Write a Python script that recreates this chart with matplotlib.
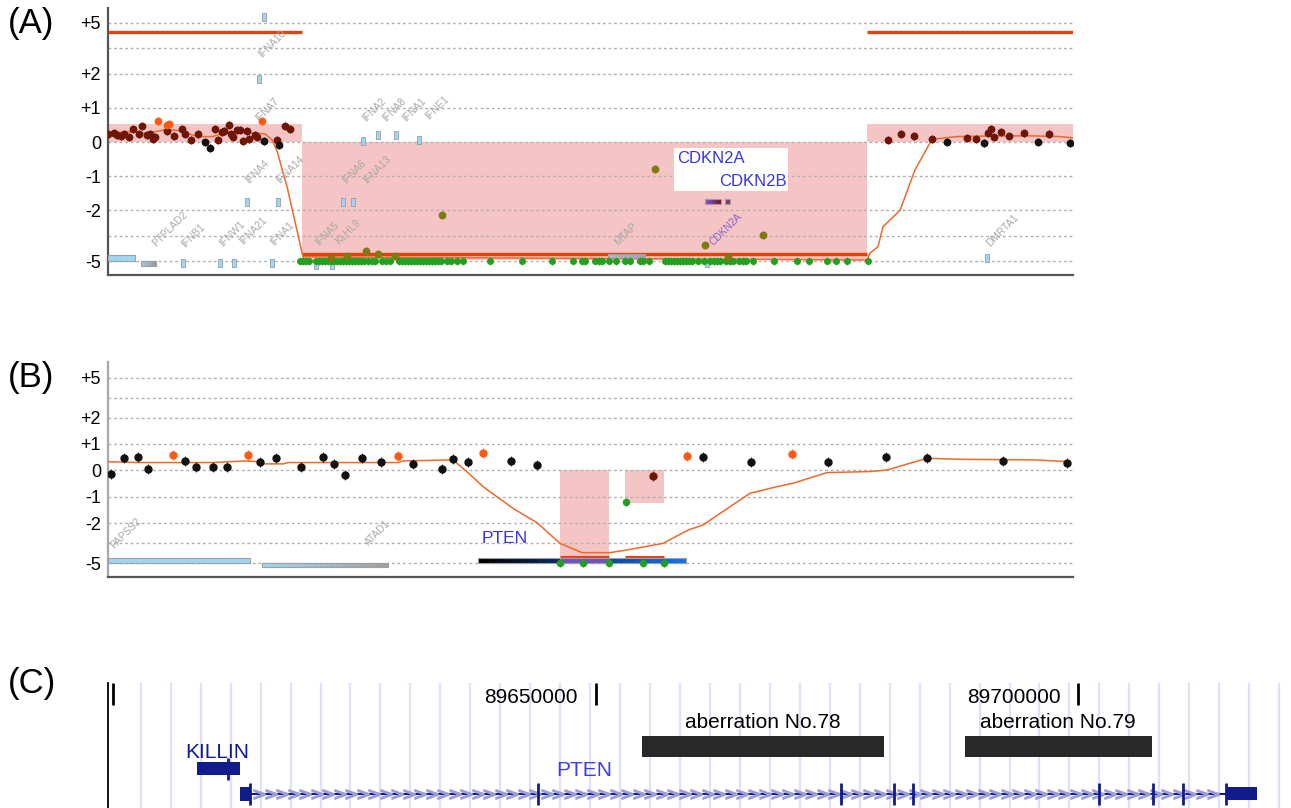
import matplotlib
matplotlib.use("Agg")
import matplotlib.pyplot as plt
import numpy as np
from matplotlib.colors import to_rgb
from matplotlib.ticker import NullFormatter

plt.rcParams['font.family'] = ['Liberation Sans', 'DejaVu Sans']

# ---------------- data: panel A (log2 ratio vs. position) ----------------
a_red_pos = [0, 6, 9, 13, 16, 21, 25, 31, 34, 39, 42, 45, 47, 59, 66, 74, 77, 83, 90,
             107, 110, 114, 116, 121, 123, 125, 129, 132, 135, 139, 141, 147, 149, 169,
             177, 182, 780, 793, 806, 824, 859, 868, 880, 883, 886, 893, 901, 916, 941]
a_red_val = [0.24, 0.26, 0.2, 0.17, 0.24, 0.14, 0.39, 0.24, 0.46, 0.22, 0.24, 0.1, 0.14,
             0.31, 0.17, 0.39, 0.24, 0.07, 0.24, 0.39, 0.07, 0.29, 0.31, 0.49, 0.24, 0.14,
             0.36, 0.36, 0.04, 0.33, 0.1, 0.22, 0.14, 0.07, 0.46, 0.39, 0.06, 0.24, 0.18,
             0.08, 0.13, 0.08, 0.27, 0.37, 0.16, 0.3, 0.18, 0.27, 0.23]
a_black_pos = [97, 102, 156, 171, 839, 876, 930, 962]
a_black_val = [0.0, -0.17, 0.02, -0.1, 0.0, -0.04, -0.01, -0.04]
a_orange_pos = [50, 59, 61, 154]
a_orange_val = [0.63, 0.51, 0.53, 0.63]
a_green_pos = [192, 195, 198, 201, 208, 211, 214, 217, 220, 223, 226, 229, 232, 235, 238,
               241, 244, 247, 250, 253, 256, 260, 264, 267, 274, 278, 282, 291, 294, 297,
               300, 303, 306, 309, 312, 315, 318, 321, 324, 327, 330, 333, 339, 343, 349,
               355, 382, 414, 444, 465, 474, 477, 487, 491, 494, 501, 508, 517, 522, 532,
               535, 541, 557, 560, 563, 566, 569, 572, 575, 578, 581, 584, 590, 596, 602,
               606, 609, 612, 618, 622, 625, 631, 635, 638, 645, 666, 689, 701, 719, 728,
               739, 760]
a_olive_pos = [334, 547, 655, 597, 258, 270, 239, 287, 223, 620]
a_olive_val = [-2.29, -0.79, -3.47, -4.06, -4.39, -4.59, -4.7, -4.7, -4.84, -4.78]
a_trend_pos = [0, 22, 39, 59, 72, 89, 105, 119, 139, 157, 164, 169, 179, 195, 759,
               762, 770, 775, 792, 807, 824, 849, 885, 925, 952, 965]
a_trend_val = [0.26, 0.3, 0.26, 0.37, 0.33, 0.16, 0.16, 0.3, 0.27, 0.24, 0.06, -0.26,
               -1.31, -4.75, -4.94, -4.53, -4.16, -2.98, -2.02, -0.82, 0.08, 0.16, 0.18,
               0.18, 0.16, 0.12]
a_seg_start = [0, 194, 759]
a_seg_end = [194, 759, 965]
a_seg_mean = [4.47, -4.59, 4.47]
a_box_low = [0, -4.95, 0]
a_box_high = [0.53, 0, 0.53]

a_gene_pos = [156, 151, 139, 170, 75, 112, 126, 164, 235, 245, 255, 270, 288, 311, 208,
              224, 879, 599]
a_gene_val = [5.37, 1.84, -1.76, -1.76, -5.14, -5.14, -5.14, -5.14, -1.76, -1.76, 0.04,
              0.21, 0.21, 0.06, -5.24, -5.24, -4.8, -5.1]
a_bar_start = [0, 33, 500, 597, 617]
a_bar_end = [27, 48, 537, 613, 622]
a_bar_low = [-5.0, -5.29, -4.82, -1.82, -1.82]
a_bar_high = [-4.65, -5.0, -4.59, -1.68, -1.68]
a_bar_c0 = ['#9fd6f5', '#a8c8e0', '#b8b0c8', '#7a5ad8', '#7a3a70']
a_bar_c1 = ['#9fd6f5', '#8f9aa8', '#a8a0b8', '#6a1838', '#7a3a70']

a_label_text = ['IFNA10', 'IFNA7', 'IFNA4', 'IFNA14', 'PTPLAD2', 'IFNB1', 'IFNW1',
                'IFNA21', 'IFNA1', 'IFNA5', 'KLHL9', 'IFNA6', 'IFNA13', 'IFNA2', 'IFNA8',
                'IFNA1', 'IFNE1', 'MTAP', 'CDKN2A', 'DMRTA1']
a_label_pos = [164, 159, 149, 182, 62, 85, 124, 145, 174, 219, 240, 246, 269, 266, 286,
               306, 329, 518, 618, 894]
a_label_val = [3.76, 0.94, -0.88, -0.82, -3.12, -3.53, -3.41, -3.24, -3.41, -3.41, -3.29,
               -0.88, -0.82, 0.94, 0.94, 0.94, 1.0, -3.41, -3.12, -3.18]

# ---------------- data: panel B ----------------
b_black_pos = [3, 16, 30, 40, 77, 88, 105, 119, 152, 168, 193, 215, 226, 237, 254, 273,
               305, 334, 345, 360, 403, 429, 595, 643, 720, 778, 819, 895, 959]
b_black_val = [-0.13, 0.46, 0.5, 0.06, 0.37, 0.14, 0.12, 0.14, 0.33, 0.46, 0.12, 0.5,
               0.25, -0.17, 0.46, 0.33, 0.25, 0.05, 0.42, 0.33, 0.37, 0.21, 0.5, 0.33,
               0.33, 0.5, 0.46, 0.37, 0.29]
b_orange_pos = [65, 140, 290, 375, 579, 684]
b_orange_val = [0.58, 0.58, 0.55, 0.65, 0.56, 0.61]
b_red_pos = [545]
b_red_val = [-0.21]
b_green_pos = [518, 452, 475, 501, 535, 556]
b_green_val = [-1.2, -5.0, -5.0, -5.0, -5.0, -5.0]
b_trend_pos = [0, 30, 105, 137, 152, 157, 175, 180, 290, 295, 345, 349, 359, 372, 375,
               405, 429, 452, 474, 502, 519, 555, 580, 595, 642, 669, 685, 719, 762, 779,
               819, 855, 927, 962]
b_trend_val = [0.33, 0.3, 0.3, 0.36, 0.33, 0.25, 0.25, 0.3, 0.3, 0.36, 0.4, 0.27, -0.05,
               -0.5, -0.61, -1.43, -1.97, -3.5, -4.2, -4.2, -4.0, -3.5, -2.5, -2.11, -0.86,
               -0.61, -0.48, -0.08, -0.04, 0.02, 0.46, 0.42, 0.4, 0.33]
b_box_start = [452, 517]
b_box_end = [501, 556]
b_box_low = [-4.5, -1.21]
b_seg_mean = [-4.5, -4.5]
b_bar_start = [0, 154, 370, 452]
b_bar_end = [142, 280, 578, 501]
b_bar_low = [-5.0, -5.3, -5.0, -5.0]
b_bar_high = [-4.6, -5.0, -4.6, -4.6]
b_bar_c0 = ['#9fd6f5', '#9fd6f5', '#000000', '#7050c8']
b_bar_c1 = ['#9fd6f5', '#a0a0a0', '#0a70ff', '#7050c8']
b_label_text = ['PAPSS2', 'ATAD1']
b_label_pos = [18, 270]
b_label_val = [-2.72, -2.72]

# ---------------- data: panel C (genome browser, bp) ----------------
c_tick_bp = [89600000, 89650000, 89700000]
c_tick_label = ['', '89650000', '89700000']
c_aber_name = ['aberration No.78', 'aberration No.79']
c_aber_start = [89654814, 89688209]
c_aber_end = [89679866, 89707610]
killin_start, killin_end, killin_mark = 89608750, 89613200, 89612000
pten_start, pten_end = 89613200, 89718480
pten_exon_bp = [89614235, 89644048, 89675393, 89680849, 89682919, 89702071, 89707712,
                89710818, 89715270]
pten_last_exon = (89715270, 89718480)

# ---------------- scale: compressed beyond +/-2 ----------------
VALS = [-40, -5, -2, -1, 0, 1, 2, 5, 40]
DISP = [-21, -3.5, -2, -1, 0, 1, 2, 3.5, 21]


def fwd(v):
    return np.interp(v, VALS, DISP)


def inv(d):
    return np.interp(d, DISP, VALS)


PINK = '#f5c4c4'
THICK = '#e2430c'
TREND = '#f0682a'
RED = '#6e1606'
ORANGE = '#ff5a14'
GREEN = '#22a022'
OLIVE = '#7b7b12'
GRAYTXT = '#a8a8a8'

W, H = 1291, 808
fig = plt.figure(figsize=(W / 100, H / 100), dpi=100)


def ratio_axes(top_px, bottom_px, ylim, left_color):
    ax = fig.add_axes([108 / W, 1 - bottom_px / H, (1073 - 108) / W,
                       (bottom_px - top_px) / H])
    ax.set_yscale('function', functions=(fwd, inv))
    ax.set_xlim(0, 965)
    ax.set_ylim(*ylim)
    ax.set_yticks([-5, -2, -1, 0, 1, 2, 5])
    ax.set_yticklabels(['-5', '-2', '-1', '0', '+1', '+2', '+5'])
    ax.set_yticks([-3.5, 3.5], minor=True)
    ax.yaxis.set_minor_formatter(NullFormatter())
    ax.tick_params(axis='y', which='both', length=0, pad=5, labelsize=13)
    ax.set_xticks([])
    ax.grid(axis='y', which='both', color='#b0b0b0', linestyle=(0, (2, 2)), linewidth=1)
    ax.set_axisbelow(True)
    for s in ('top', 'right'):
        ax.spines[s].set_visible(False)
    ax.spines['left'].set_color(left_color)
    ax.spines['left'].set_linewidth(1.6)
    ax.spines['bottom'].set_color('#555555')
    ax.spines['bottom'].set_linewidth(1.6)
    return ax


def points(ax, x, y, color, ms=4.6):
    ax.plot(x, y, 'o', ms=ms, color=color, mec=color, zorder=4)
    ax.plot(x, y, '|', ms=ms + 1.6, mew=0.6, color=color, zorder=4)


def grad_bar(ax, x0, x1, lo, hi, c0, c1, n=24):
    r0, r1 = np.array(to_rgb(c0)), np.array(to_rgb(c1))
    edges = np.linspace(x0, x1, n + 1)
    cols = [tuple(r0 + (r1 - r0) * t) for t in np.linspace(0, 1, n)]
    ax.broken_barh([(edges[i], edges[i + 1] - edges[i]) for i in range(n)],
                   (lo, hi - lo), facecolors=cols, edgecolor='none', zorder=3)
    ax.broken_barh([(x0, x1 - x0)], (lo, hi - lo), facecolors='none',
                   edgecolor='#a0a0a0', linewidth=0.8, zorder=3)


gene_marker = [(-0.22, -0.5), (0.22, -0.5), (0.22, 0.5), (-0.22, 0.5), (-0.22, -0.5)]

# ---------------- panel A ----------------
axa = ratio_axes(8, 275, (-5.82, 5.88), '#555555')
for x0, x1, lo, hi in zip(a_seg_start, a_seg_end, a_box_low, a_box_high):
    axa.fill_between([x0, x1], lo, hi, color=PINK, lw=0, zorder=0.2)
axa.hlines(a_seg_mean, a_seg_start, a_seg_end, color=THICK, lw=2.4, zorder=3)
axa.plot(a_trend_pos, a_trend_val, color=TREND, lw=1.1, zorder=3)
axa.plot(a_gene_pos, a_gene_val, ls='none', marker=gene_marker, ms=6, color='#a9d2ee',
         mec='#8aa0b4', mew=0.6, zorder=3)
for x0, x1, lo, hi, c0, c1 in zip(a_bar_start, a_bar_end, a_bar_low, a_bar_high,
                                  a_bar_c0, a_bar_c1):
    grad_bar(axa, x0, x1, lo, hi, c0, c1)
points(axa, a_green_pos, [-5.0] * len(a_green_pos), GREEN, ms=4)
points(axa, a_olive_pos, a_olive_val, OLIVE)
points(axa, a_red_pos, a_red_val, RED)
points(axa, a_black_pos, a_black_val, '#111111')
points(axa, a_orange_pos, a_orange_val, ORANGE)
for t, x, y in zip(a_label_text, a_label_pos, a_label_val):
    axa.text(x, y, t, rotation=45, ha='center', va='center', fontsize=7.3,
             color='#8866cc' if t == 'CDKN2A' else GRAYTXT, zorder=3)
axa.fill_between([566, 680], -1.44, -0.18, color='white', lw=0, zorder=5)
axa.text(569, -0.49, 'CDKN2A', ha='left', va='center', fontsize=12, color='#3434ee',
         zorder=6)
axa.text(679, -1.15, 'CDKN2B', ha='right', va='center', fontsize=12, color='#3434ee',
         zorder=6)

# ---------------- panel B ----------------
axb = ratio_axes(362, 577, (-6.04, 6.19), '#a8a8a8')
for x0, x1, lo in zip(b_box_start, b_box_end, b_box_low):
    axb.fill_between([x0, x1], lo, 0, color=PINK, lw=0, zorder=0.2)
axb.hlines(b_seg_mean, b_box_start, b_box_end, color=THICK, lw=2.2, zorder=3)
axb.plot(b_trend_pos, b_trend_val, color=TREND, lw=1.1, zorder=3)
for x0, x1, lo, hi, c0, c1 in zip(b_bar_start, b_bar_end, b_bar_low, b_bar_high,
                                  b_bar_c0, b_bar_c1):
    grad_bar(axb, x0, x1, lo, hi, c0, c1)
points(axb, b_green_pos, b_green_val, GREEN, ms=4.4)
points(axb, b_black_pos, b_black_val, '#111111', ms=5)
points(axb, b_orange_pos, b_orange_val, ORANGE, ms=5)
points(axb, b_red_pos, b_red_val, RED, ms=5)
for t, x, y in zip(b_label_text, b_label_pos, b_label_val):
    axb.text(x, y, t, rotation=45, ha='center', va='center', fontsize=7.3,
             color=GRAYTXT, zorder=3)
axb.text(397, -3.13, 'PTEN', ha='center', va='center', fontsize=12.5, color='#3434ee',
         zorder=6)

# ---------------- panel C ----------------
axc = fig.add_axes([108 / W, 0, 1 - 108 / W, 125 / H])
axc.set_xlim(89599534, 89721998)
axc.set_ylim(0, 125)
axc.set_xticks([])
axc.set_yticks([])
for s in ('top', 'right', 'bottom'):
    axc.spines[s].set_visible(False)
axc.spines['left'].set_color('black')
axc.spines['left'].set_linewidth(1.3)
for gx in np.arange(89602930, 89721000, 3101):
    axc.axvline(gx, color='#dfe0fa', lw=1.6, zorder=0)
axc.vlines(c_tick_bp, 103, 125, color='black', lw=2)
for bp, lab in zip(c_tick_bp, c_tick_label):
    axc.text(bp - 1800, 110.5, lab, ha='right', va='center', fontsize=15)
for name, s, e in zip(c_aber_name, c_aber_start, c_aber_end):
    axc.broken_barh([(s, e - s)], (51, 21), facecolors='#282828')
    axc.text((s + e) / 2, 86, name, ha='center', va='center', fontsize=15)

NAVY = '#101c8c'
axc.broken_barh([(killin_start, killin_end - killin_start)], (33, 13), facecolors=NAVY)
axc.vlines([killin_mark], 28, 50, color=NAVY, lw=2)
axc.text(89610817, 55, 'KILLIN', ha='center', va='center', fontsize=15, color=NAVY)

axc.hlines(14, pten_start, pten_end, color=NAVY, lw=1.5, zorder=2)
chev = np.arange(89615200, 89714800, 1190)
axc.plot(chev, np.full(chev.size, 14), ls='none', marker='$>$', ms=8,
         color='#9c9cd6', zorder=3)
axc.vlines(pten_exon_bp, 3, 25, color=NAVY, lw=2, zorder=4)
axc.broken_barh([(pten_start, pten_exon_bp[0] - pten_start)], (7, 14), facecolors=NAVY,
                zorder=4)
axc.broken_barh([(pten_last_exon[0], pten_last_exon[1] - pten_last_exon[0])], (8, 13),
                facecolors=NAVY, zorder=4)
axc.text(89648861, 38, 'PTEN', ha='center', va='center', fontsize=15, color='#3c3cf0')

# panel letters
for lab, ypx in (('(A)', 23), ('(B)', 378), ('(C)', 684)):
    fig.text(8 / W, 1 - ypx / H, lab, fontsize=25, va='center', ha='left')

fig.savefig('out.png', dpi=100)
